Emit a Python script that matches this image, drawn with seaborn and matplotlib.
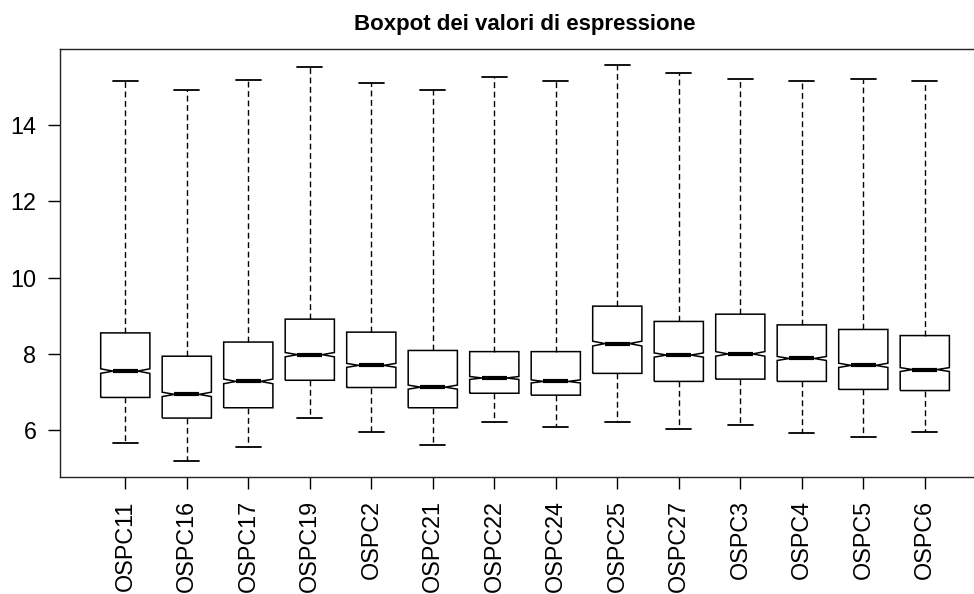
import numpy as np
import pandas as pd
import matplotlib
matplotlib.use("Agg")
import matplotlib.pyplot as plt
from matplotlib.path import Path
import seaborn as sns

# Five-number summary of the expression values for each sample
campioni = ["OSPC11", "OSPC16", "OSPC17", "OSPC19", "OSPC2", "OSPC21", "OSPC22",
            "OSPC24", "OSPC25", "OSPC27", "OSPC3", "OSPC4", "OSPC5", "OSPC6"]
baffo_min = [5.68, 5.20, 5.57, 6.33, 5.95, 5.62, 6.22,
             6.08, 6.22, 6.04, 6.14, 5.93, 5.83, 5.95]
primo_quartile = [6.86, 6.32, 6.59, 7.31, 7.12, 6.59, 6.97,
                  6.92, 7.49, 7.28, 7.34, 7.28, 7.07, 7.04]
mediana = [7.55, 6.94, 7.28, 7.98, 7.70, 7.13, 7.37,
           7.28, 8.27, 7.97, 8.00, 7.88, 7.70, 7.59]
terzo_quartile = [8.55, 7.94, 8.31, 8.91, 8.57, 8.09, 8.06,
                  8.06, 9.25, 8.85, 9.04, 8.76, 8.64, 8.48]
baffo_max = [15.14, 14.90, 15.17, 15.52, 15.08, 14.90, 15.24,
             15.14, 15.56, 15.35, 15.20, 15.14, 15.20, 15.14]
n_sonde = 2000          # probes per sample, sets the notch height
tacche_y = [6, 8, 10, 12, 14]

sns.set_style("white")
plt.rcParams["font.family"] = ["Liberation Sans", "DejaVu Sans"]
plt.rcParams["text.color"] = "black"

# long table: the five summary values per sample reproduce the box statistics
df = pd.DataFrame({
    "campione": np.repeat(campioni, 5),
    "valore": np.column_stack([baffo_min, primo_quartile, mediana,
                               terzo_quartile, baffo_max]).ravel(),
})

fig = plt.figure(figsize=(9.74, 5.94), dpi=100)
ax = fig.add_axes([0.0617, 0.1975, 0.9547, 0.7195])

sns.boxplot(
    data=df, x="campione", y="valore", order=campioni, ax=ax,
    whis=(0, 100), width=0.8, color="white", saturation=1,
    linecolor="black", linewidth=1.0, notch=True, showfliers=False,
    medianprops={"linewidth": 3.0, "color": "black", "solid_capstyle": "butt"},
    whiskerprops={"linestyle": (0, (4.2, 2.6)), "linewidth": 1.0},
    capprops={"linewidth": 1.3},
)

# rebuild each box outline with R's notch half-height: 1.58 * IQR / sqrt(n)
semi_tacca = 1.58 * (np.array(terzo_quartile) - np.array(primo_quartile)) / np.sqrt(n_sonde)
for patch, q1, m, q3, h in zip(ax.patches, primo_quartile, mediana,
                               terzo_quartile, semi_tacca):
    xs = patch.get_path().vertices[:, 0]
    sx, dx = xs.min(), xs.max()
    centro = (sx + dx) / 2
    ns, nd = centro - (dx - sx) / 4, centro + (dx - sx) / 4
    bx = [sx, dx, dx, nd, dx, dx, sx, sx, ns, sx, sx]
    by = [q1, q1, m - h, m, m + h, q3, q3, m + h, m, m - h, q1]
    patch.set_path(Path(np.column_stack([bx, by])))
    patch.set_linewidth(1.1)
    patch.set_edgecolor("black")

# axis ranges extended by 4% like R's defaults
n = len(campioni)
ax.set_xlim(-0.5 - 0.04 * n, n - 0.5 + 0.04 * n)
lo, hi = min(baffo_min), max(baffo_max)
ax.set_ylim(lo - 0.04 * (hi - lo), hi + 0.04 * (hi - lo))

ax.set_yticks(tacche_y)
ax.set_yticklabels([str(t) for t in tacche_y])
ax.set_xticks(range(n))
ax.set_xticklabels(campioni, rotation=90, ha="center", va="top")
ax.tick_params(axis="both", direction="out", length=8.4, width=1.0,
               pad=8.6, labelsize=16.8, colors="black", left=True, bottom=True)
ax.set_xlabel("")
ax.set_ylabel("")
for side in ["left", "bottom", "top", "right"]:
    ax.spines[side].set_visible(True)
    ax.spines[side].set_color("#222222")
    ax.spines[side].set_linewidth(1.0)

ax.set_title("Boxpot dei valori di espressione", fontsize=16,
             fontweight="bold", pad=13.9, color="black")

fig.savefig("out.png", dpi=100)
